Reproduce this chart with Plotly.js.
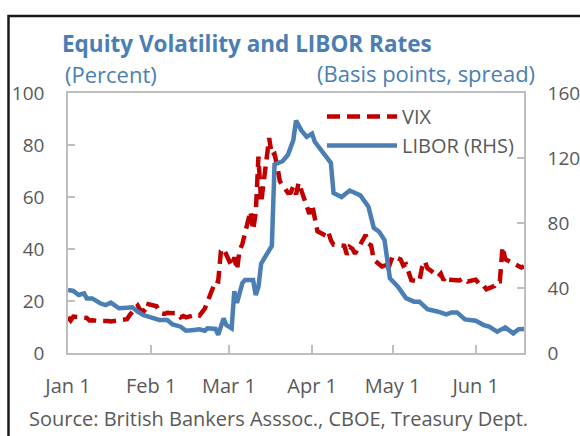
<!DOCTYPE html>
<html>
<head>
<meta charset="utf-8">
<script src="https://cdn.plot.ly/plotly-3.0.1.min.js"></script>
<style>
html,body{margin:0;padding:0;background:#fff;}
#chart{width:580px;height:436px;}
</style>
</head>
<body>
<div id="chart"></div>
<script>
// ---- Data ----
const vixDates = ['2020-01-01','2020-01-02','2020-01-03','2020-01-06','2020-01-07','2020-01-08','2020-01-09','2020-01-10',
'2020-01-13','2020-01-14','2020-01-15','2020-01-16','2020-01-17','2020-01-21','2020-01-22','2020-01-23','2020-01-24',
'2020-01-27','2020-01-28','2020-01-29','2020-01-30','2020-01-31','2020-02-03','2020-02-04','2020-02-05','2020-02-06',
'2020-02-07','2020-02-10','2020-02-11','2020-02-12','2020-02-13','2020-02-14','2020-02-18','2020-02-19','2020-02-20',
'2020-02-21','2020-02-24','2020-02-25','2020-02-26','2020-02-27','2020-02-28','2020-03-02','2020-03-03','2020-03-04',
'2020-03-05','2020-03-06','2020-03-09','2020-03-10','2020-03-11','2020-03-12','2020-03-13','2020-03-16','2020-03-17',
'2020-03-18','2020-03-19','2020-03-20','2020-03-23','2020-03-24','2020-03-25','2020-03-26','2020-03-27','2020-03-30',
'2020-03-31','2020-04-01','2020-04-02','2020-04-03','2020-04-06','2020-04-07','2020-04-08','2020-04-09','2020-04-13',
'2020-04-14','2020-04-15','2020-04-16','2020-04-17','2020-04-20','2020-04-21','2020-04-22','2020-04-23','2020-04-24',
'2020-04-27','2020-04-28','2020-04-29','2020-04-30','2020-05-01','2020-05-04','2020-05-05','2020-05-06','2020-05-07',
'2020-05-08','2020-05-11','2020-05-12','2020-05-13','2020-05-14','2020-05-15','2020-05-18','2020-05-19','2020-05-20',
'2020-05-21','2020-05-22','2020-05-26','2020-05-27','2020-05-28','2020-05-29','2020-06-01','2020-06-02','2020-06-03',
'2020-06-04','2020-06-05','2020-06-08','2020-06-09','2020-06-10','2020-06-11','2020-06-12','2020-06-15','2020-06-16',
'2020-06-17','2020-06-18','2020-06-19'];
const vixValues = [13.8,12.5,14.0,13.9,13.8,13.5,12.5,12.6,
12.3,12.4,12.4,12.3,12.1,12.9,12.9,13.0,14.6,
18.2,16.3,16.4,15.5,18.8,18.0,16.1,15.2,15.0,
15.5,15.0,15.2,13.7,14.2,13.7,14.8,14.4,15.6,
17.1,25.0,27.9,27.6,39.2,40.1,33.4,36.8,32.0,
39.6,41.9,54.5,47.3,53.9,75.5,57.8,82.7,75.9,
76.5,72.0,66.0,61.6,61.7,64.0,61.0,65.5,57.1,
53.5,57.1,50.9,46.8,45.2,46.7,43.4,41.7,41.2,
37.8,40.8,40.1,38.2,43.8,45.4,42.0,41.4,35.9,
33.3,33.6,31.2,34.2,37.2,36.0,33.6,34.1,31.4,
28.0,27.6,33.0,35.3,32.6,31.9,29.3,30.5,28.0,
29.5,28.2,27.9,28.6,28.6,27.5,28.2,26.8,25.7,
25.8,24.5,25.8,27.6,27.6,40.8,36.1,34.4,33.7,
33.5,32.9,33.4];

const liborDates = ['2020-01-01','2020-01-03','2020-01-05','2020-01-07','2020-01-08','2020-01-10','2020-01-13','2020-01-15',
'2020-01-17','2020-01-19','2020-01-20','2020-01-23','2020-01-25','2020-01-27','2020-01-29','2020-01-31','2020-02-02',
'2020-02-04','2020-02-07','2020-02-09','2020-02-12','2020-02-14','2020-02-17','2020-02-19','2020-02-21','2020-02-22',
'2020-02-25','2020-02-26','2020-02-28','2020-02-29','2020-03-02','2020-03-03','2020-03-04','2020-03-06','2020-03-07',
'2020-03-10','2020-03-11','2020-03-12','2020-03-13','2020-03-16','2020-03-17','2020-03-18','2020-03-21','2020-03-23',
'2020-03-25','2020-03-26','2020-03-28','2020-03-30','2020-04-01','2020-04-02','2020-04-05','2020-04-08','2020-04-09',
'2020-04-12','2020-04-15','2020-04-19','2020-04-22','2020-04-24','2020-04-26','2020-04-28','2020-04-30','2020-05-03',
'2020-05-06','2020-05-09','2020-05-11','2020-05-14','2020-05-18','2020-05-21','2020-05-23','2020-05-25','2020-05-28',
'2020-06-01','2020-06-04','2020-06-06','2020-06-09','2020-06-12','2020-06-15','2020-06-17','2020-06-19'];
const liborValues = [38.8,38.2,35.7,36.7,33.6,33.6,30.6,29.5,
31.0,28.9,27.5,27.9,28.1,25.4,23.4,22.4,21.3,
20.3,20.3,17.6,16.2,13.7,14.2,14.6,13.7,15.2,
14.8,11.2,21.3,17.2,15.2,38.0,30.8,43.0,45.0,
45.0,35.7,40.8,55.0,62.5,66.0,116,118,122,
131,143,137,133,135,130,123,117,98.5,
96,100,97,90,77,74.6,69.5,46,40.8,
33.8,31.6,31.6,27,25.4,23.8,25,25,20.7,
19.9,17.2,16.2,13.1,15.8,12.1,14.6,14.8];

const seriesNames = ['VIX','LIBOR (RHS)'];
const chartTitle = 'Equity Volatility and LIBOR Rates';
const leftUnit = '(Percent)';
const rightUnit = '(Basis points, spread)';
const sourceNote = 'Source: British Bankers Asssoc., CBOE, Treasury Dept.';

// ---- Styles ----
const RED = '#c00000';
const BLUE = '#4a7eb4';
const GRAY_TXT = '#595959';
const AXIS = '#bfbfbf';
const FONT = 'Open Sans, DejaVu Sans, sans-serif';

const traces = [
  {x: vixDates, y: vixValues, name: seriesNames[0], type: 'scatter', mode: 'lines',
   yaxis: 'y', line: {color: RED, width: 4.5, dash: '13px,7px'}},
  {x: liborDates, y: liborValues, name: seriesNames[1], type: 'scatter', mode: 'lines',
   yaxis: 'y2', line: {color: BLUE, width: 4.5}}
];

const layout = {
  width: 580, height: 436,
  margin: {l: 68, r: 56, t: 93, b: 83, pad: 0},
  paper_bgcolor: '#ffffff', plot_bgcolor: '#ffffff',
  font: {family: FONT, color: GRAY_TXT, size: 19},
  showlegend: true,
  title: {text: '<b>' + chartTitle + '</b>', font: {family: FONT, size: 22.5, color: BLUE},
          xref: 'container', yref: 'container', x: 62/580, xanchor: 'left', y: 1 - 44/436, yanchor: 'middle'},
  xaxis: {
    type: 'date', range: ['2020-01-01', '2020-06-19'],
    tick0: '2020-01-01', dtick: 'M1', tickformat: '%b %-d',
    showgrid: false, zeroline: false,
    showline: true, linecolor: AXIS, linewidth: 1.5, mirror: true,
    ticks: 'inside', ticklen: 8, tickcolor: AXIS, tickwidth: 1.5,
    tickfont: {size: 20, color: GRAY_TXT}, ticklabelstandoff: 14
  },
  yaxis: {
    range: [0, 100], dtick: 20, showgrid: false, zeroline: false,
    showline: true, linecolor: AXIS, linewidth: 1.5,
    ticks: 'inside', ticklen: 7, tickcolor: AXIS, tickwidth: 1.5,
    tickfont: {size: 19, color: GRAY_TXT}, ticklabelstandoff: 18
  },
  yaxis2: {
    range: [0, 160], dtick: 40, overlaying: 'y', side: 'right', showgrid: false, zeroline: false,
    showline: true, linecolor: AXIS, linewidth: 1.5,
    ticks: 'inside', ticklen: 7, tickcolor: AXIS, tickwidth: 1.5,
    tickfont: {size: 19, color: GRAY_TXT}, ticklabelstandoff: 18
  },
  legend: {
    x: (322-68)/456, xanchor: 'left', y: (353-97)/260, yanchor: 'top',
    bgcolor: 'rgba(0,0,0,0)', borderwidth: 0, itemwidth: 70,
    font: {size: 20, color: GRAY_TXT}, tracegroupgap: 0
  },
  annotations: [
    {text: leftUnit, xref: 'paper', yref: 'paper', x: (63-68)/456, y: (353-74)/260,
     xanchor: 'left', yanchor: 'middle', showarrow: false, font: {size: 22, color: BLUE}},
    {text: rightUnit, xref: 'paper', yref: 'paper', x: (537-68)/456, y: (353-73)/260,
     xanchor: 'right', yanchor: 'middle', showarrow: false, font: {size: 22, color: BLUE}},
    {text: sourceNote, xref: 'paper', yref: 'paper', x: (27-68)/456, y: (353-418)/260,
     xanchor: 'left', yanchor: 'middle', showarrow: false, font: {size: 20, color: GRAY_TXT}}
  ],
  shapes: [
    {type: 'rect', xref: 'paper', yref: 'paper', x0: (8.5-68)/456, x1: 1.3, y0: -0.6, y1: (353-16)/260,
     line: {color: '#1a1a1a', width: 2.5}, fillcolor: 'rgba(0,0,0,0)', layer: 'below'}
  ]
};

Plotly.newPlot('chart', traces, layout, {displayModeBar: false, responsive: false});
</script>
</body>
</html>
